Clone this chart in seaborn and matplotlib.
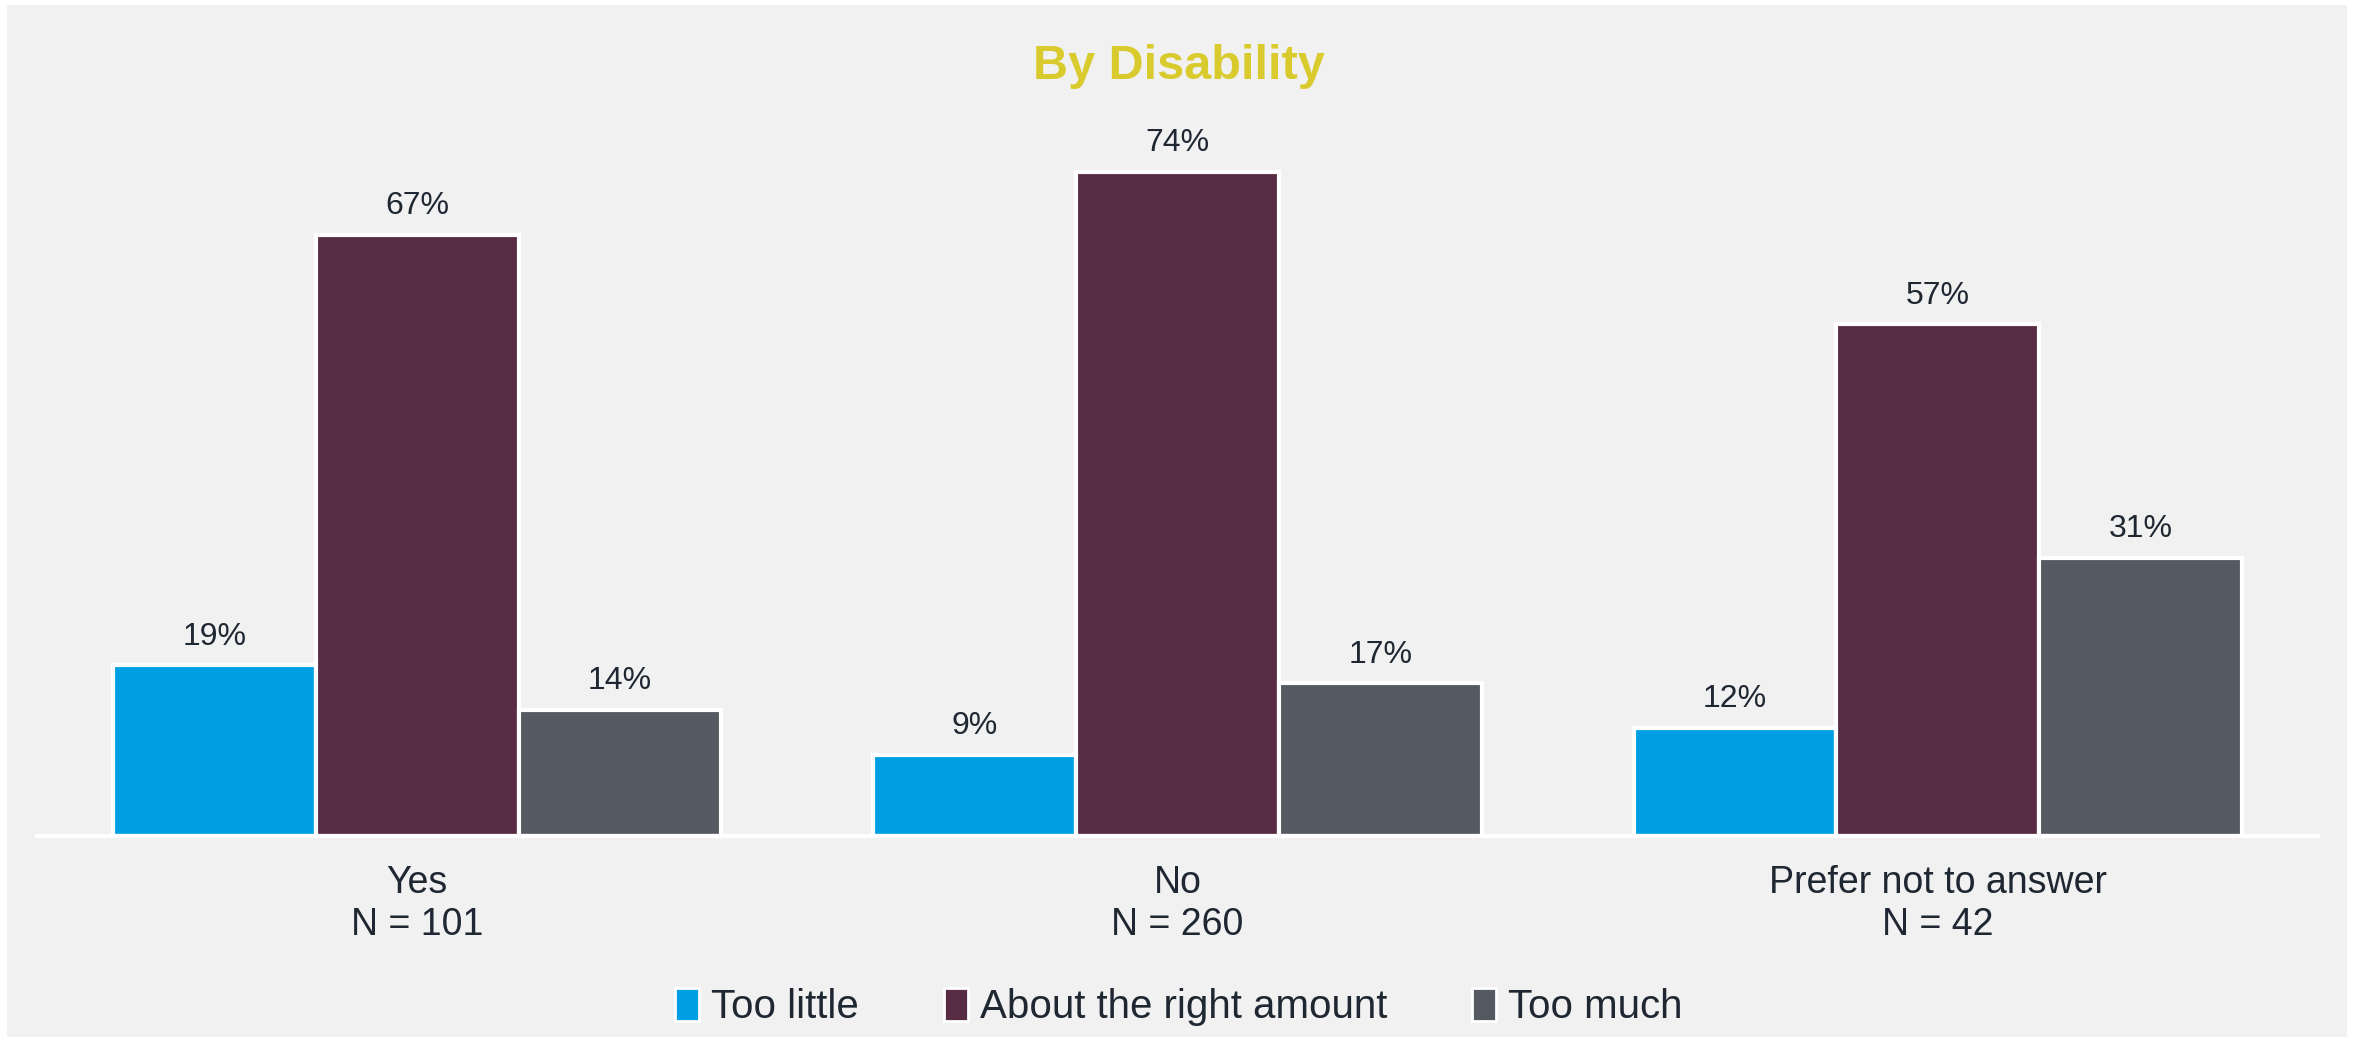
import seaborn as sns
import matplotlib.pyplot as plt
import pandas as pd
from matplotlib.patches import Rectangle

########################################################
# Data
########################################################
groups = ['Yes\nN = 101', 'No\nN = 260', 'Prefer not to answer\nN = 42']
responses = ['Too little', 'About the right amount', 'Too much']
too_little = [19, 9, 12]
right_amount = [67, 74, 57]
too_much = [14, 17, 31]
colors = ['#009FE3', '#582C44', '#555A62']

df = pd.DataFrame({
    'group': groups * 3,
    'response': [r for r in responses for _ in groups],
    'value': too_little + right_amount + too_much,
})

########################################################
# Plot
########################################################
sns.set_style('white')
plt.rcParams['font.family'] = ['Liberation Sans', 'DejaVu Sans']
text_color = '#1E2732'

fig = plt.figure(figsize=(23.58, 10.37), dpi=100, facecolor='white')
# grey panel with a thin white frame (behind the axes)
fig.patches.append(Rectangle((7 / 2358, 0), (2347 - 7) / 2358, 1 - 5 / 1037,
                             transform=fig.transFigure, facecolor='#F1F1F1',
                             edgecolor='none', zorder=-1))

ax = fig.add_axes([37 / 2358, 201 / 1037, (2318 - 37) / 2358, 718 / 1037])
ax.set_facecolor('none')

sns.barplot(data=df, x='group', y='value', hue='response', hue_order=responses,
            order=groups, palette=colors, width=0.8, edgecolor='white',
            linewidth=3, saturation=1, ax=ax, legend=False)

for c in ax.containers:
    ax.bar_label(c, labels=[f'{v:.0f}%' for v in c.datavalues], padding=10,
                 fontsize=23, color=text_color)

ax.set_ylim(0, 80)
ax.set_xlim(-0.5, 2.5)
ax.set_xlabel('')
ax.set_ylabel('')
ax.set_yticks([])
ax.tick_params(axis='x', length=0, pad=21, labelsize=27, labelcolor=text_color)
for s in ['top', 'left', 'right']:
    ax.spines[s].set_visible(False)
ax.spines['bottom'].set_color('white')
ax.spines['bottom'].set_linewidth(3)

fig.text(0.5, 1 - 79 / 1037, 'By Disability', ha='center', va='baseline',
         fontsize=35, fontweight='bold', color='#D9CB2E')

handles = [Rectangle((0, 0), 1, 1, facecolor=c, edgecolor='white', linewidth=2)
           for c in colors]
fig.legend(handles, responses, loc='center', bbox_to_anchor=(0.5, 1 - 1007 / 1037),
           ncol=3, frameon=False, fontsize=29, handlelength=0.6, handleheight=0.9,
           handletextpad=0.3, columnspacing=2.1, labelcolor=text_color)

fig.savefig('out.png', dpi=100, facecolor=fig.get_facecolor())
